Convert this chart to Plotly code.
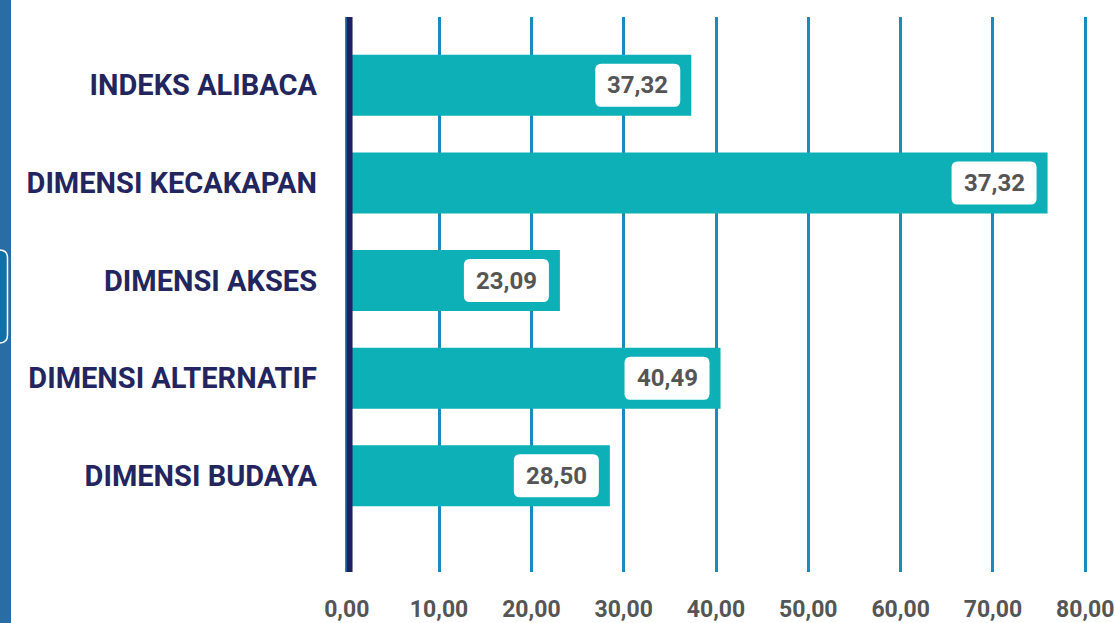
import plotly.graph_objects as go

categories = ["INDEKS ALIBACA", "DIMENSI KECAKAPAN", "DIMENSI AKSES", "DIMENSI ALTERNATIF", "DIMENSI BUDAYA"]
values = [37.32, 75.92, 23.09, 40.49, 28.50]
value_labels = ["37,32", "37,32", "23,09", "40,49", "28,50"]
tick_vals = [0, 10, 20, 30, 40, 50, 60, 70, 80]
tick_text = ["0,00", "10,00", "20,00", "30,00", "40,00", "50,00", "60,00", "70,00", "80,00"]

W, H = 1115, 623
ML, MR, MT, MB = 344, 27, 17, 51
PW = W - ML - MR
PH = H - MT - MB

BAR = "#0db0b6"
GRID = "#1a8bbf"
NAVY = "#1f2160"
LABEL = "#23265e"
VAL = "#555555"

fig = go.Figure()
fig.add_trace(go.Bar(
    y=categories, x=values, orientation="h",
    marker=dict(color=BAR, line=dict(width=0)),
    width=0.625, hoverinfo="skip",
))

def px_x(p):
    return (p - ML) / PW

def px_y(p):
    return 1 - (p - MT) / PH

def rounded(xa, xb, ya, yb, r, fx=lambda v: v, fy=lambda v: v):
    pts = lambda x, y: f"{fx(x)},{fy(y)}"
    return (f"M {pts(xa+r, ya)} L {pts(xb-r, ya)} Q {pts(xb, ya)} {pts(xb, ya+r)} "
            f"L {pts(xb, yb-r)} Q {pts(xb, yb)} {pts(xb-r, yb)} "
            f"L {pts(xa+r, yb)} Q {pts(xa, yb)} {pts(xa, yb-r)} "
            f"L {pts(xa, ya+r)} Q {pts(xa, ya)} {pts(xa+r, ya)} Z")

shapes = []
annotations = []
x0, x1 = -96, -11
box_path = rounded(x0, x1, -21.5, 21.5, 6)
for i, (c, v, t) in enumerate(zip(categories, values, value_labels)):
    shapes.append(dict(type="path", xref="x", yref="y", xsizemode="pixel", ysizemode="pixel",
                       xanchor=v, yanchor=i, path=box_path,
                       fillcolor="white", line=dict(width=0), layer="above"))
    annotations.append(dict(x=v, y=c, xref="x", yref="y", text=t, showarrow=False,
                            xanchor="center", yanchor="middle", xshift=(x0 + x1) / 2,
                            font=dict(family="Roboto", size=24, color=VAL, weight="bold")))

# navy axis line at zero
shapes.append(dict(type="line", xref="x", yref="paper", x0=0.3, x1=0.3, y0=0, y1=1,
                   line=dict(color=NAVY, width=6), layer="above"))

# left decorative strip
shapes.append(dict(type="rect", xref="paper", yref="paper",
                   x0=px_x(-2), x1=px_x(11), y0=px_y(H + 2), y1=px_y(-2),
                   fillcolor="#2a6da4", line=dict(width=0), layer="above"))
shapes.append(dict(type="path", xref="paper", yref="paper",
                   path=rounded(-12, 7.5, 250, 343, 8, fx=px_x, fy=px_y),
                   fillcolor="#1270a8", line=dict(color="white", width=1.5), layer="above"))

fig.update_layout(
    width=W, height=H,
    margin=dict(l=ML, r=MR, t=MT, b=MB, pad=0, autoexpand=False),
    paper_bgcolor="white", plot_bgcolor="white",
    showlegend=False,
    shapes=shapes,
    annotations=annotations,
    xaxis=dict(range=[-0.3, 80.3], tickvals=tick_vals, ticktext=tick_text,
               showgrid=True, gridcolor=GRID, gridwidth=2.5, zeroline=False,
               showline=False, ticks="", ticklabelstandoff=21, automargin=False,
               ticklabeloverflow="allow",
               tickfont=dict(family="Roboto", size=23, color=VAL, weight="bold"),
               fixedrange=True),
    yaxis=dict(categoryorder="array", categoryarray=categories,
               range=[4.985, -0.70], showgrid=False, zeroline=False, showline=False,
               ticks="", ticklabelstandoff=26, automargin=False,
               tickfont=dict(family="Roboto", size=29, color=LABEL, weight="bold"),
               fixedrange=True),
)

fig.write_html("out.html", config={"displayModeBar": False},
               post_script="document.body.style.margin='0';document.body.style.overflow='hidden';")
